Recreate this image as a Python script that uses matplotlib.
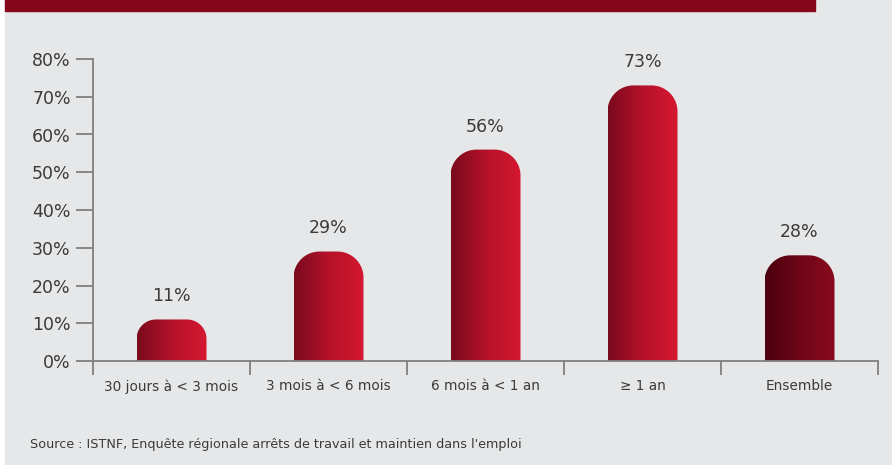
import numpy as np
import matplotlib
matplotlib.use("Agg")
import matplotlib.pyplot as plt
from matplotlib.path import Path
from matplotlib.patches import PathPatch, Rectangle
from matplotlib.colors import LinearSegmentedColormap

# donnees
categories = ["30 jours à < 3 mois", "3 mois à < 6 mois", "6 mois à < 1 an", "≥ 1 an", "Ensemble"]
values = [11, 29, 56, 73, 28]
value_labels = ["11%", "29%", "56%", "73%", "28%"]
yticks = [0, 10, 20, 30, 40, 50, 60, 70, 80]
ytick_labels = ["0%", "10%", "20%", "30%", "40%", "50%", "60%", "70%", "80%"]
source = "Source : ISTNF, Enquête régionale arrêts de travail et maintien dans l'emploi"

W, H = 892, 465
bg = "#e6e7e8"
txt = "#3a3a3a"
axc = "#7f7f7f"

fig = plt.figure(figsize=(W / 100, H / 100), dpi=100)
fig.patch.set_facecolor("white")
# fond gris + bandeau rouge
fig.add_artist(Rectangle((5 / W, 0), 1, 1, transform=fig.transFigure, color=bg, zorder=-5))
fig.add_artist(Rectangle((5 / W, 1 - 11 / H), 810 / W, 11 / H, transform=fig.transFigure,
                         color="#85061a", zorder=-4))

x0, x1, y0, y1 = 93, 878, 361, 59
ax = fig.add_axes([x0 / W, 1 - y0 / H, (x1 - x0) / W, (y0 - y1) / H])
ax.set_facecolor("none")
ax.set_xlim(0, 5)
ax.set_ylim(0, 80)

px_x = 5 / (x1 - x0)      # unites par pixel en x
px_y = 80 / (y0 - y1)     # unites par pixel en y

cmap_red = LinearSegmentedColormap.from_list("r", ["#7a0a1d", "#b5122a", "#d51830"])
cmap_dark = LinearSegmentedColormap.from_list("d", ["#4c0010", "#6e0617", "#8a0a1c"])

bw = 70 * px_x
grad = np.linspace(0, 1, 256).reshape(1, -1)
for i, v in enumerate(values):
    cx = i + 0.5
    left, right = cx - bw / 2, cx + bw / 2
    hpx = v / px_y
    r = min(26, 0.47 * hpx)
    rx, ry = r * px_x, r * px_y
    t = np.linspace(np.pi, np.pi / 2, 20)
    arc_l = np.column_stack([left + rx + rx * np.cos(t), v - ry + ry * np.sin(t)])
    t2 = np.linspace(np.pi / 2, 0, 20)
    arc_r = np.column_stack([right - rx + rx * np.cos(t2), v - ry + ry * np.sin(t2)])
    pts = np.vstack([[left, 0], arc_l, arc_r, [right, 0], [left, 0]])
    codes = [Path.MOVETO] + [Path.LINETO] * (len(pts) - 2) + [Path.CLOSEPOLY]
    patch = PathPatch(Path(pts, codes), facecolor="none", edgecolor="none")
    ax.add_patch(patch)
    cm = cmap_dark if i == len(values) - 1 else cmap_red
    im = ax.imshow(grad, cmap=cm, extent=[left, right, 0, v], aspect="auto", zorder=2)
    im.set_clip_path(patch)
    ax.text(cx, v + 6.1, value_labels[i], ha="center", va="center", fontsize=12.5, color=txt)

ax.set_xlim(0, 5)
ax.set_ylim(0, 80)

for s in ["top", "right"]:
    ax.spines[s].set_visible(False)
for s in ["left", "bottom"]:
    ax.spines[s].set_color(axc)
    ax.spines[s].set_linewidth(1.3)

ax.set_yticks(yticks)
ax.set_yticklabels(ytick_labels, fontsize=12.5, color=txt)
ax.tick_params(axis="y", length=12, width=1.3, color=axc, pad=4)

ax.set_xticks(np.arange(0, 6))
ax.set_xticklabels([])
ax.tick_params(axis="x", length=10, width=1.3, color=axc)
ax.set_xticks(np.arange(5) + 0.5, minor=True)
ax.set_xticklabels(categories, minor=True, fontsize=9.8, color=txt)
ax.tick_params(axis="x", which="minor", length=0, pad=13)

fig.text(30 / W, 1 - 444 / H, source, fontsize=9.2, color=txt, va="center", ha="left")

fig.savefig("out.png", dpi=100, facecolor=fig.get_facecolor())
